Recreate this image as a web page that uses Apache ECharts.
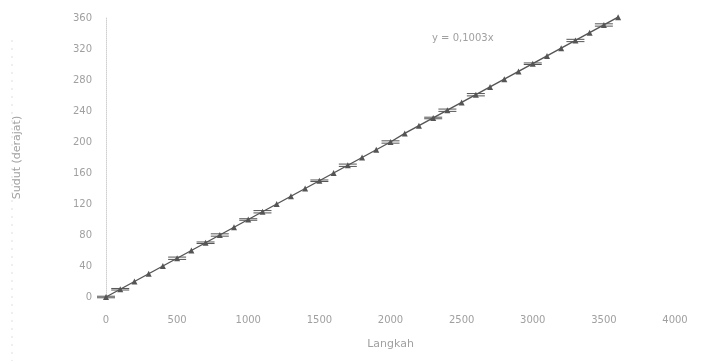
<!DOCTYPE html>
<html><head><meta charset="utf-8">
<script src="https://cdn.jsdelivr.net/npm/echarts@6/dist/echarts.min.js"></script>
<style>html,body{margin:0;padding:0;background:#fff}#c{width:706px;height:361px}</style>
</head><body><div id="c"></div>
<script>
const steps = [0,100,200,300,400,500,600,700,800,900,1000,1100,1200,1300,1400,1500,1600,1700,1800,1900,2000,2100,2200,2300,2400,2500,2600,2700,2800,2900,3000,3100,3200,3300,3400,3500,3600];
const angles = [0,10,20,30,40,50,60,70,80,90,100,110,120,130,140,150,160,170,180,190,200,211,221,231,241,251,261,271,281,291,301,311,321,331,341,351,361];
const errors = [1,1,0,0,0,1.5,0,1,1.5,0,1,1.5,0,0,0,1,0,1.5,0,0,1.5,0,0,1,1.5,0,1.5,0,0,0,1,0,0,1.5,0,1.5,0];
const xTicks = ['0','500','1000','1500','2000','2500','3000','3500','4000'];
const yTicks = ['0','40','80','120','160','200','240','280','320','360'];
const equation = 'y = 0,1003x';

const pts = steps.map((s,i)=>[s,angles[i]]);
const errData = steps.map((s,i)=>[s,angles[i],errors[i]]);
const txt = {color:'#a0a0a0',fontFamily:'DejaVu Sans',fontSize:10};
const chart = echarts.init(document.getElementById('c'));
chart.setOption({
  animation:false,
  grid:{left:106,right:31,top:18,bottom:64},
  xAxis:{type:'value',min:0,max:4000,interval:500,
    name:'Langkah',nameLocation:'middle',nameGap:42,nameTextStyle:Object.assign({},txt,{fontSize:11}),
    axisLine:{show:false},axisTick:{show:false},splitLine:{show:false},
    axisLabel:Object.assign({},txt,{margin:18,formatter:v=>xTicks[v/500]})},
  yAxis:{type:'value',min:0,max:360,interval:40,
    name:'Sudut (derajat)',nameLocation:'middle',nameGap:83,nameTextStyle:Object.assign({},txt,{fontSize:11}),
    axisLine:{show:true,lineStyle:{color:'#d0d0d0',type:'dotted'}},axisTick:{show:false},splitLine:{show:false},
    axisLabel:Object.assign({},txt,{margin:14,formatter:v=>yTicks[v/40]})},
  graphic:[{type:'text',left:432,top:33,style:{text:equation,fill:'#a0a0a0',font:'10px DejaVu Sans'}},
    {type:'line',shape:{x1:12,y1:40,x2:12,y2:361},style:{stroke:'#dddddd',lineDash:[2,6],lineWidth:1}}],
  series:[
    {type:'line',data:pts,symbol:'triangle',symbolSize:6,clip:false,
     lineStyle:{color:'#555',width:1.4},itemStyle:{color:'#555'}},
    {type:'custom',data:errData,clip:false,renderItem:function(params,api){
      const x=api.value(0),y=api.value(1),e=api.value(2);
      if(!e) return null;
      const top=api.coord([x,y+e]),bot=api.coord([x,y-e]);
      const w=9;
      const st={stroke:'#555',lineWidth:1};
      return {type:'group',children:[
        {type:'line',shape:{x1:top[0],y1:top[1],x2:bot[0],y2:bot[1]},style:st},
        {type:'line',shape:{x1:top[0]-w,y1:top[1],x2:top[0]+w,y2:top[1]},style:st},
        {type:'line',shape:{x1:bot[0]-w,y1:bot[1],x2:bot[0]+w,y2:bot[1]},style:st}
      ]};
    },z:3}
  ]
});
</script></body></html>
